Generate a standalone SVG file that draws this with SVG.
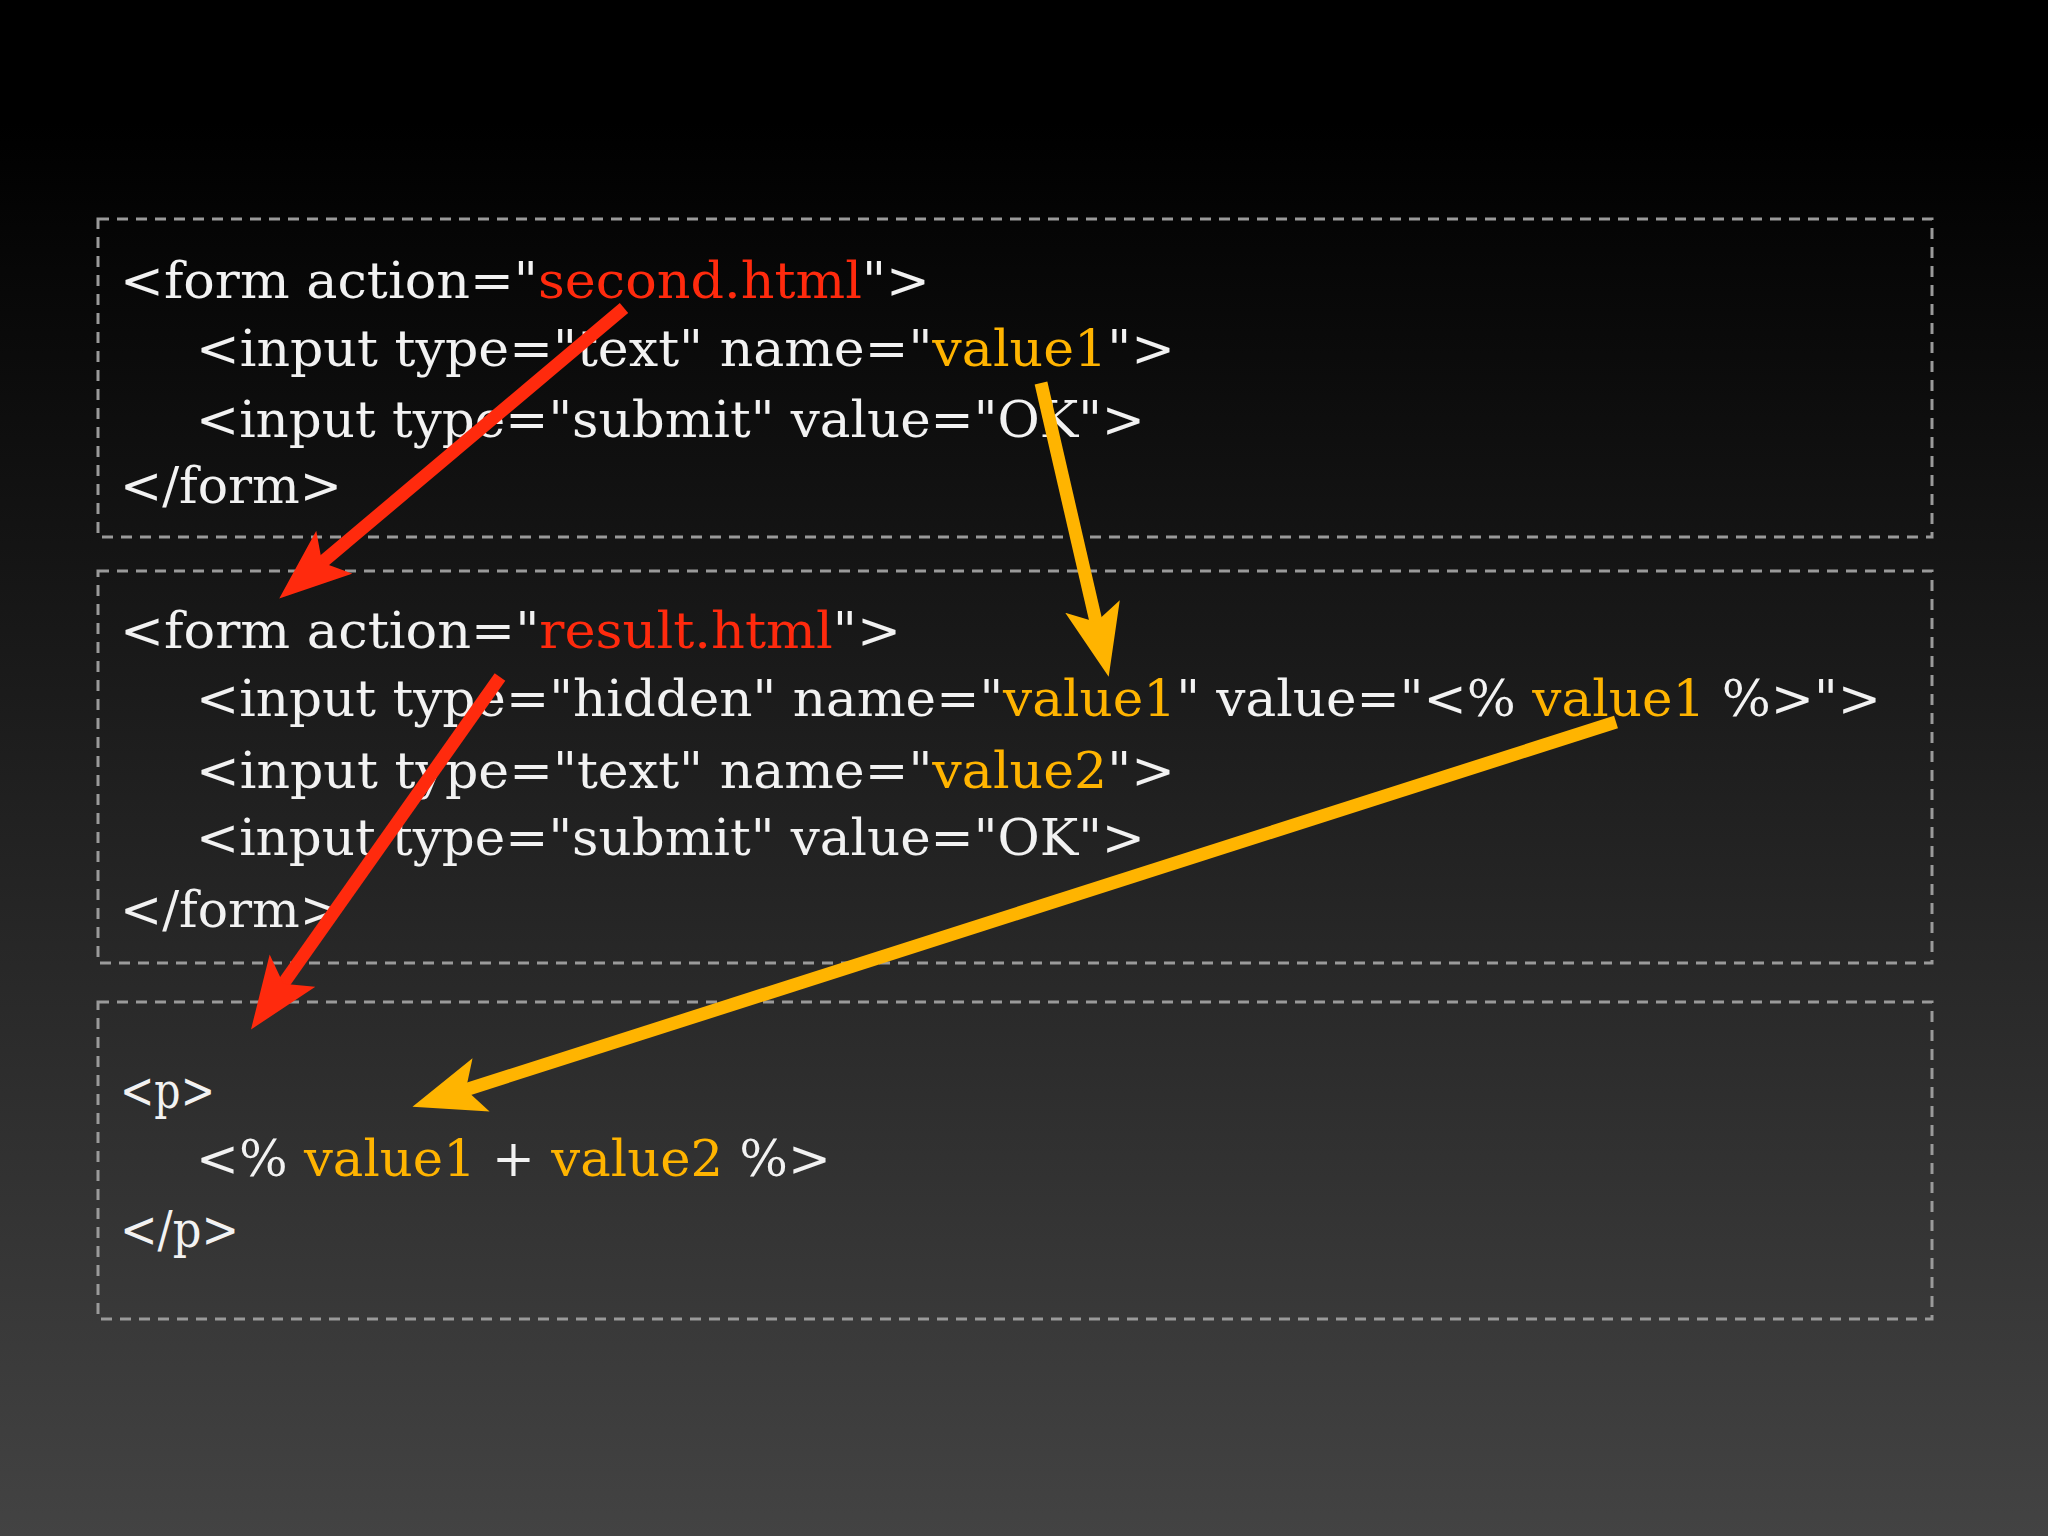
<svg xmlns="http://www.w3.org/2000/svg" width="2048" height="1536" viewBox="0 0 2048 1536">
<defs>
<linearGradient id="bg" x1="0" y1="0" x2="0" y2="1"><stop offset="0.08" stop-color="#000"/><stop offset="1" stop-color="#434343"/></linearGradient>
<marker id="hr" markerUnits="userSpaceOnUse" markerWidth="80" markerHeight="60" refX="20" refY="28" orient="auto"><path d="M0,0 L72,28 L0,56 L16,28 z" fill="#ff2a0d"/></marker>
<marker id="hy" markerUnits="userSpaceOnUse" markerWidth="80" markerHeight="60" refX="20" refY="28" orient="auto"><path d="M0,0 L72,28 L0,56 L16,28 z" fill="#ffb400"/></marker>
</defs>
<style>
.box{fill:none;stroke:#9a9a9a;stroke-width:3;stroke-dasharray:11 8}
text{font-family:"DejaVu Serif","Liberation Serif",serif;font-size:50px;fill:#f2f2f2}
.r{fill:#ff2a0d}.y{fill:#ffb400}
.ar{stroke:#ff2a0d;stroke-width:13;fill:none}.ay{stroke:#ffb400;stroke-width:13;fill:none}
</style>
<rect width="2048" height="1536" fill="url(#bg)"/>
<g id="box1"><rect class="box" x="98" y="219" width="1834" height="318"/>
<text x="120" y="298" textLength="810" lengthAdjust="spacingAndGlyphs">&lt;form action="<tspan class="r">second.html</tspan>"&gt;</text>
<text x="196" y="366" textLength="979" lengthAdjust="spacingAndGlyphs">&lt;input type="text" name="<tspan class="y">value1</tspan>"&gt;</text>
<text x="196" y="437" textLength="949" lengthAdjust="spacingAndGlyphs">&lt;input type="submit" value="OK"&gt;</text>
<text x="120" y="503" textLength="222" lengthAdjust="spacingAndGlyphs">&lt;/form&gt;</text></g>
<g id="box2"><rect class="box" x="98" y="571" width="1834" height="392"/>
<text x="120" y="648" textLength="781" lengthAdjust="spacingAndGlyphs">&lt;form action="<tspan class="r">result.html</tspan>"&gt;</text>
<text x="196" y="716" textLength="1685" lengthAdjust="spacingAndGlyphs">&lt;input type="hidden" name="<tspan class="y">value1</tspan>" value="&lt;% <tspan class="y">value1</tspan> %&gt;"&gt;</text>
<text x="196" y="788" textLength="979" lengthAdjust="spacingAndGlyphs">&lt;input type="text" name="<tspan class="y">value2</tspan>"&gt;</text>
<text x="196" y="855" textLength="949" lengthAdjust="spacingAndGlyphs">&lt;input type="submit" value="OK"&gt;</text>
<text x="120" y="927" textLength="222" lengthAdjust="spacingAndGlyphs">&lt;/form&gt;</text></g>
<g id="box3"><rect class="box" x="98" y="1002" width="1834" height="317"/>
<text x="120" y="1108" textLength="95" lengthAdjust="spacingAndGlyphs">&lt;p&gt;</text>
<text x="196" y="1176" textLength="635" lengthAdjust="spacingAndGlyphs">&lt;% <tspan class="y">value1</tspan> + <tspan class="y">value2</tspan> %&gt;</text>
<text x="120" y="1247" textLength="119" lengthAdjust="spacingAndGlyphs">&lt;/p&gt;</text></g>
<g id="connectors">
<line class="ar" x1="624" y1="308" x2="319" y2="565" marker-end="url(#hr)"/>
<line class="ay" x1="1041" y1="383" x2="1097" y2="626" marker-end="url(#hy)"/>
<line class="ar" x1="500" y1="677" x2="281" y2="987" marker-end="url(#hr)"/>
<line class="ay" x1="1616" y1="722" x2="462" y2="1091" marker-end="url(#hy)"/>
</g>
</svg>
